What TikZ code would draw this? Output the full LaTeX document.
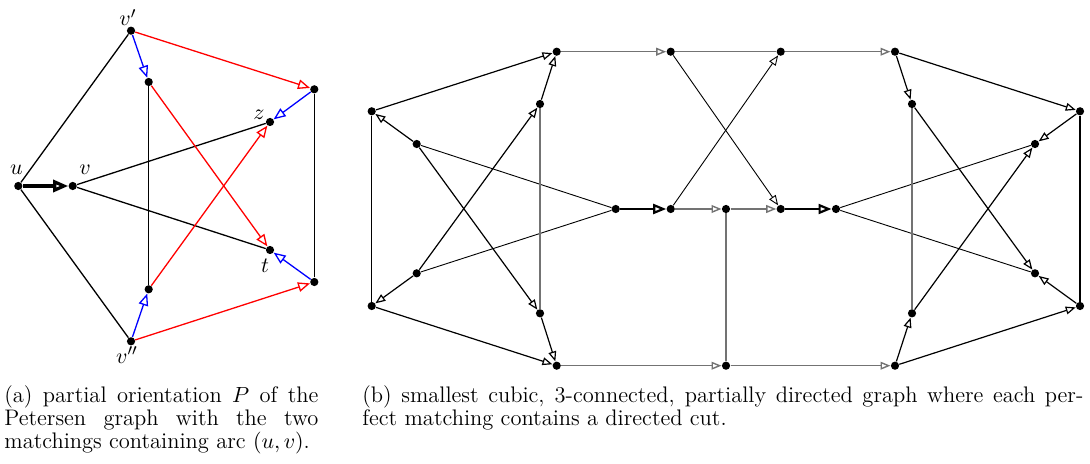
\documentclass[tikz,border=0pt]{standalone}
\usetikzlibrary{arrows.meta,backgrounds}
\begin{document}
\begin{tikzpicture}[x=0.5pt,y=-0.5pt,
  dot/.style={circle,fill=black,inner sep=0pt,minimum size=4.1pt},
  lbl/.style={anchor=base,inner sep=0pt,font=\fontsize{11.25}{12}\selectfont},
  ledge/.style={line width=0.65pt},
  larr/.style={line width=0.65pt,-{Triangle[open,length=6pt,width=4.8pt]}},
  lthick/.style={line width=1.6pt,-{Triangle[open,length=7.5pt,width=6pt]}},
  redge/.style={line width=0.6pt},
  rthin/.style={line width=0.45pt},
  rgray/.style={line width=0.7pt,draw=black!55},
  rarr/.style={-{Triangle[open,length=5pt,width=3.9pt]}},
  rthick/.style={line width=1.1pt,-{Triangle[open,length=6.5pt,width=5pt]}},
  captxt/.style={anchor=north west,inner sep=0pt,align=justify,font=\fontsize{11.25}{11.65}\selectfont}]
\useasboundingbox (0,0) rectangle (1090,464);
% ---------- (a) Petersen graph ----------
\node[dot] (u) at (18.3,186) {};
\node[dot] (v) at (72.7,186) {};
\node[dot] (vp) at (131,30.7) {};
\node[dot] (vpp) at (131,341.3) {};
\node[dot] (a1) at (148.7,82) {};
\node[dot] (a2) at (148.7,289.3) {};
\node[dot] (r1) at (314.3,89.3) {};
\node[dot] (r2) at (314.3,282) {};
\node[dot] (z) at (270,122) {};
\node[dot] (t) at (270,250) {};
\node[lbl] (lu) at (16.5,175) {$u$};
\node[lbl] (lv) at (85,175) {$v$};
\node[lbl] (lvp) at (128,26) {$v'$};
\node[lbl] (lvpp) at (127,363) {$v''$};
\node[lbl] (lz) at (259,120) {$z$};
\node[lbl] (lt) at (265,273) {$t$};
\begin{scope}[on background layer]
  \draw[ledge] (u) -- (vp);
  \draw[ledge] (u) -- (vpp);
  \draw[ledge] (v) -- (z);
  \draw[ledge] (v) -- (t);
  \draw[ledge] (a1) -- (a2);
  \draw[ledge] (r1) -- (r2);
  \draw[lthick] (u) -- (v);
  \draw[larr,blue] (vp) -- (a1);
  \draw[larr,blue] (vpp) -- (a2);
  \draw[larr,blue] (r1) -- (z);
  \draw[larr,blue] (r2) -- (t);
  \draw[larr,red] (vp) -- (r1);
  \draw[larr,red] (vpp) -- (r2);
  \draw[larr,red] (a1) -- (t);
  \draw[larr,red] (a2) -- (z);
\end{scope}
% ---------- (b) ----------
\node[dot] (L1) at (371.7,111.3) {};
\node[dot] (L2) at (371.7,306) {};
\node[dot] (P1) at (416.7,144) {};
\node[dot] (P2) at (416.7,273.3) {};
\node[dot] (A) at (556.7,51.7) {};
\node[dot] (B) at (556.7,365.7) {};
\node[dot] (C) at (540,104) {};
\node[dot] (D) at (540,313.3) {};
\node[dot] (E) at (615.7,209) {};
\node[dot] (F) at (670.7,209) {};
\node[dot] (G) at (670.7,51.7) {};
\node[dot] (H) at (780.7,51.7) {};
\node[dot] (I) at (726,209) {};
\node[dot] (J) at (780.7,209) {};
\node[dot] (K) at (836,209) {};
\node[dot] (M) at (726,365.7) {};
\node[dot] (N) at (895,51.7) {};
\node[dot] (O) at (895,365.7) {};
\node[dot] (Q1) at (912,104) {};
\node[dot] (Q2) at (912,313.3) {};
\node[dot] (R1) at (1080,111.3) {};
\node[dot] (R2) at (1080,306) {};
\node[dot] (S1) at (1035,144) {};
\node[dot] (S2) at (1035,273.3) {};
\begin{scope}[on background layer]
  \draw[redge] (L1) -- (L2);
  \draw[redge] (R1) -- (R2);
  \draw[rthin] (P1) -- (E);
  \draw[rthin] (P2) -- (E);
  \draw[rthin] (K) -- (S1);
  \draw[rthin] (K) -- (S2);
  \draw[redge,rarr] (L1) -- (A);
  \draw[redge,rarr] (P1) -- (L1);
  \draw[redge,rarr] (P2) -- (L2);
  \draw[redge,rarr] (L2) -- (B);
  \draw[redge,rarr] (P1) -- (D);
  \draw[redge,rarr] (P2) -- (C);
  \draw[redge,rarr] (C) -- (A);
  \draw[redge,rarr] (D) -- (B);
  \draw[rthin,rarr] (F) -- (H);
  \draw[rthin,rarr] (G) -- (J);
  \draw[redge,rarr] (N) -- (Q1);
  \draw[redge,rarr] (N) -- (R1);
  \draw[redge,rarr] (R1) -- (S1);
  \draw[redge,rarr] (R2) -- (S2);
  \draw[redge,rarr] (O) -- (R2);
  \draw[redge,rarr] (O) -- (Q2);
  \draw[redge,rarr] (Q2) -- (S1);
  \draw[redge,rarr] (Q1) -- (S2);
  \draw[rgray] (C) -- (D);
  \draw[rgray] (G) -- (H);
  \draw[rgray] (I) -- (M);
  \draw[rgray] (Q1) -- (Q2);
  \draw[rgray,rarr] (A) -- (G);
  \draw[rgray,rarr] (B) -- (M);
  \draw[rgray,rarr] (F) -- (I);
  \draw[rgray,rarr] (I) -- (J);
  \draw[rgray,rarr] (H) -- (N);
  \draw[rgray,rarr] (M) -- (O);
  \draw[rthick] (E) -- (F);
  \draw[rthick] (J) -- (K);
\end{scope}
% ---------- captions ----------
\node[captxt,text width=157pt] (capa) at (4,385)
  {(a) partial orientation $P$ of the\linebreak Petersen graph with the two\linebreak matchings containing arc $(u,v)$.};
\node[captxt,text width=360.5pt] (capb) at (362,385)
  {(b) smallest cubic, 3-connected, partially directed graph where each per-\linebreak fect matching contains a directed cut.};
\end{tikzpicture}
\end{document}
